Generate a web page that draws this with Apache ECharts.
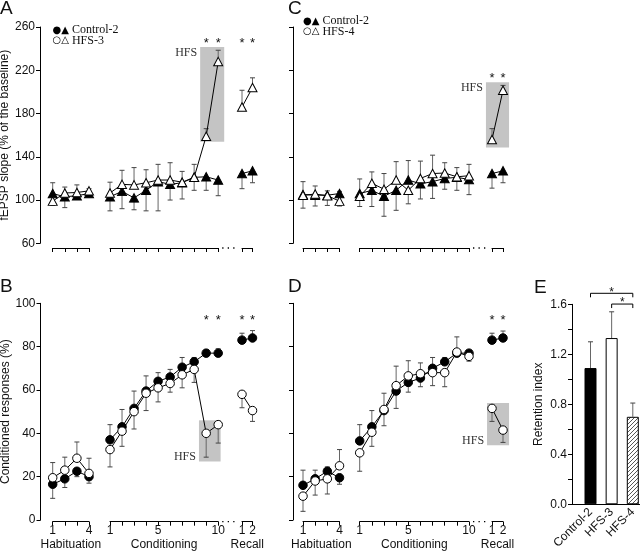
<!DOCTYPE html>
<html><head><meta charset="utf-8">
<script src="https://cdn.jsdelivr.net/npm/echarts@6/dist/echarts.min.js"></script>
<style>html,body{margin:0;padding:0;background:#fff}#c{width:640px;height:553px}</style>
</head><body><div id="c"></div>
<script>
// ================= DATA =================
const habTrials = [1, 2, 3, 4];
const condTrials = [1, 2, 3, 4, 5, 6, 7, 8, 9, 10];
const recallTrials = [1, 2];
const habTickLabels = [1, 4];
const condTickLabels = [1, 5, 10];
const recallTickLabels = [1, 2];
const segmentNames = ['Habituation', 'Conditioning', 'Recall'];
const fepspTicks = [60, 100, 140, 180, 220, 260];
const crTicks = [0, 20, 40, 60, 80, 100];
const retentionTicks = [0, 0.4, 0.8, 1.2, 1.6];
const legendA = ['Control-2', 'HFS-3'];
const legendC = ['Control-2', 'HFS-4'];

// Panel A: fEPSP slope, Control-2 vs HFS-3
const A_habCtrl = [106, 103, 104, 106];
const A_habCtrlErr = [10, 10, 3, 3];
const A_habHfs = [99, 106.5, 107, 108.5];
const A_habHfsErr = [4, 5.5, 7, 2];
const A_condCtrl = [103, 108, 102, 109, 117, 114.5, 116, 121, 121.5, 118.5];
const A_condCtrlErr = [13, 16, 11, 19, 27, 14.5, 15, 12, 12.5, 14.5];
const A_condHfs = [106.5, 114.5, 114, 116, 118.5, 118.5, 116.5, 121, 159, 228];
const A_condHfsErr = [10, 13, 16, 12, 14.5, 16, 10, 12, 7, 10.5];
const A_recCtrl = [124.5, 127];
const A_recCtrlErr = [14, 11];
const A_recHfs = [186, 204];
const A_recHfsErr = [15.5, 9];

// Panel C: fEPSP slope, Control-2 vs HFS-4
const C_habCtrl = [105, 104.5, 104.5, 106];
const C_habCtrlErr = [12, 10, 4, 2];
const C_habHfs = [104.5, 105.5, 104, 99];
const C_habHfsErr = [12, 7.5, 9, 4.5];
const C_condCtrl = [106, 109, 103.5, 109, 118.5, 115, 117, 120, 121, 119];
const C_condCtrlErr = [13.5, 15, 18.5, 18.5, 18, 14, 15.5, 10, 12, 14];
const C_condHfs = [103.5, 115.5, 110, 118.5, 109, 120, 124.5, 125, 121.5, 122.5];
const C_condHfsErr = [9.5, 10.5, 14.5, 17, 12.5, 16, 17, 9.5, 8.5, 10.5];
const C_recCtrl = [124.5, 127];
const C_recCtrlErr = [13.5, 11];
const C_recHfs = [156, 201.5];
const C_recHfsErr = [10, 4.5];

// Panel B: conditioned responses (%), Control-2 vs HFS-3
const B_habCtrl = [16.5, 19, 22.5, 20];
const B_habCtrlErr = [6.5, 4, 2.5, 3];
const B_habHfs = [19.5, 23, 28.5, 21.5];
const B_habHfsErr = [7, 6, 7.5, 7];
const B_condCtrl = [37, 43, 51.5, 59.5, 64, 66, 70.5, 73, 77, 77];
const B_condCtrlErr = [7, 8, 8, 7, 4, 3.5, 4.5, 2, 1.5, 2];
const B_condHfs = [32.5, 41, 50, 58.5, 61, 63, 67, 69.5, 40, 44];
const B_condHfsErr = [8, 7, 8, 8, 6.5, 4, 6, 6, 11, 8.5];
const B_recCtrl = [83, 84];
const B_recCtrlErr = [3.2, 3.4];
const B_recHfs = [58, 50.5];
const B_recHfsErr = [6.2, 5];

// Panel D: conditioned responses (%), Control-2 vs HFS-4
const D_habCtrl = [16, 19, 22.5, 19.5];
const D_habCtrlErr = [7, 4, 2, 3];
const D_habHfs = [11, 18, 19, 25];
const D_habHfsErr = [7, 6.5, 7, 7.5];
const D_condCtrl = [36.5, 43, 50.5, 59.5, 63.5, 65.5, 70, 73, 77, 77];
const D_condCtrlErr = [7.5, 7.5, 7, 8, 4.5, 4, 5, 2, 1, 1.2];
const D_condHfs = [31, 40.5, 51, 62, 66.5, 67.5, 68, 68, 77.5, 75.5];
const D_condHfsErr = [8.5, 6.5, 7.5, 9, 7, 5, 6, 6.5, 7, 2.2];
const D_recCtrl = [83, 84];
const D_recCtrlErr = [3.2, 3.2];
const D_recHfs = [51.5, 41.5];
const D_recHfsErr = [6, 5.7];

// HFS shaded boxes (x from, x to, y from, y to) in data units of their segment
const A_hfsBox = [8.5, 10.5, 154, 241.5];
const B_hfsBox = [8.4, 10.2, 27, 46];
const C_hfsBox = [0.45, 2.55, 148.5, 209];
const D_hfsBox = [0.55, 2.55, 34.5, 54];
const starLevelFepspA = 244.5;
const starLevelFepspC = 212.5;
const starLevelCR = 92.3;

// Panel E: retention index
const retentionNames = ['Control-2', 'HFS-3', 'HFS-4'];
const retention = [1.09, 1.33, 0.70];
const retentionErr = [0.21, 0.21, 0.11];
const sigBrackets = [[1, 3, 1.688], [2, 3, 1.602]];

// ================= LAYOUT =================
const FONT = 'Arial, "Liberation Sans", sans-serif';
const SERIF = '"Liberation Serif", "Times New Roman", serif';
const ERRC = '#666';
const segsAB = [[52.7, 89], [110, 218.2], [242, 252.5]];
const segsCD = [[303, 339.5], [359.7, 469], [492, 503]];

const grids = [], xAxes = [], yAxes = [], series = [], graphics = [];

function dirs(a, b, mineFirst) {
  // error bar goes up for the higher series, down for the lower one
  return a.map((v, i) => mineFirst ? (v >= b[i] ? 1 : -1) : (v > b[i] ? 1 : -1));
}
function errRender(params, api) {
  const x = api.value(0), v = api.value(1), e = api.value(2), d = api.value(3);
  const p0 = api.coord([x, v]), p1 = api.coord([x, v + d * e]);
  return {type: 'group', children: [
    {type: 'line', shape: {x1: p0[0], y1: p0[1], x2: p1[0], y2: p1[1]}, style: {stroke: ERRC, lineWidth: 1}},
    {type: 'line', shape: {x1: p1[0] - 2.5, y1: p1[1], x2: p1[0] + 2.5, y2: p1[1]}, style: {stroke: '#444', lineWidth: 1}}
  ]};
}
function starSeries(gi, xs, level) {
  return {type: 'custom', xAxisIndex: gi, yAxisIndex: gi, clip: false, silent: true, z: 5,
    data: xs.map(x => [x, level]),
    renderItem: (p, api) => {
      const c = api.coord([api.value(0), api.value(1)]);
      return {type: 'text', x: c[0], y: c[1], style: {text: '*', font: '13px ' + FONT, fill: '#111', align: 'center', verticalAlign: 'middle'}};
    }};
}
function boxSeries(gi, box, labelAtTop) {
  return {type: 'custom', xAxisIndex: gi, yAxisIndex: gi, clip: false, silent: true, z: 0,
    data: [box],
    renderItem: (p, api) => {
      const a = api.coord([api.value(0), api.value(3)]);
      const b = api.coord([api.value(1), api.value(2)]);
      return {type: 'group', children: [
        {type: 'rect', shape: {x: a[0], y: a[1], width: b[0] - a[0], height: b[1] - a[1]}, style: {fill: '#c4c4c4'}},
        {type: 'text', x: a[0] - 3, y: labelAtTop ? a[1] + 5.5 : b[1] - 4.5,
         style: {text: 'HFS', font: '12px ' + SERIF, fill: '#333', align: 'right', verticalAlign: 'middle'}}
      ]};
    }};
}

function addPanel(cfg) {
  cfg.segs.forEach((seg, k) => {
    const gi = grids.length;
    const [x0, x1] = cfg.segX[k];
    grids.push({left: x0, top: cfg.top, width: x1 - x0, height: cfg.bottom - cfg.top, outerBoundsMode: 'none', containLabel: false});
    xAxes.push({
      gridIndex: gi, type: 'value', min: seg.trials[0], max: seg.trials[seg.trials.length - 1], interval: 1,
      offset: cfg.bracketY - cfg.bottom,
      axisLine: {show: true, onZero: false, lineStyle: {color: '#000', width: 1}},
      axisTick: {show: true, length: 4, lineStyle: {color: '#000', width: 1}},
      splitLine: {show: false},
      axisLabel: {show: cfg.showX, customValues: seg.tickLabels, margin: 3, color: '#111', fontSize: 12, fontFamily: FONT, showMinLabel: true, showMaxLabel: true},
      name: cfg.showX ? segmentNames[k] : '', nameLocation: 'middle', nameGap: 17,
      nameTextStyle: {fontSize: 12, fontFamily: FONT, color: '#111'}
    });
    yAxes.push({
      gridIndex: gi, type: 'value', min: cfg.ymin, max: cfg.ymax, show: k === 0,
      offset: k === 0 ? x0 - cfg.yAxisX : 0,
      axisLine: {show: true, onZero: false, lineStyle: {color: '#000', width: 1}},
      axisTick: {show: true, length: 4, customValues: cfg.yTicks, lineStyle: {color: '#000'}},
      splitLine: {show: false},
      axisLabel: {show: cfg.showY, customValues: cfg.yTicks, margin: 5, color: '#111', fontSize: 12, fontFamily: FONT},
      name: k === 0 && cfg.yName ? cfg.yName : '', nameLocation: 'middle', nameGap: 23,
      nameTextStyle: {fontSize: 12, fontFamily: FONT, color: '#111'}
    });
    const cd = dirs(seg.ctrl, seg.hfs, false), hd = dirs(seg.hfs, seg.ctrl, true);
    const common = {xAxisIndex: gi, yAxisIndex: gi, clip: false, silent: true};
    series.push(Object.assign({type: 'custom', z: 1, renderItem: errRender,
      data: seg.trials.map((t, i) => [t, seg.ctrl[i], seg.ctrlErr[i], cd[i]])}, common));
    series.push(Object.assign({type: 'custom', z: 1, renderItem: errRender,
      data: seg.trials.map((t, i) => [t, seg.hfs[i], seg.hfsErr[i], hd[i]])}, common));
    series.push(Object.assign({type: 'line', z: 3, symbol: cfg.symbol, symbolSize: cfg.symbolSize, showAllSymbol: true,
      itemStyle: {color: '#000', borderColor: '#000', borderWidth: 1}, lineStyle: {color: '#000', width: 1},
      data: seg.trials.map((t, i) => [t, seg.ctrl[i]])}, common));
    series.push(Object.assign({type: 'line', z: 4, symbol: cfg.symbol, symbolSize: cfg.symbolSize, showAllSymbol: true,
      itemStyle: {color: '#fff', borderColor: '#000', borderWidth: 1}, lineStyle: {color: '#000', width: 1},
      data: seg.trials.map((t, i) => [t, seg.hfs[i]])}, common));
    if (cfg.box && cfg.box.seg === k) series.push(boxSeries(gi, cfg.box.data, cfg.box.top));
    if (cfg.stars[k]) series.push(starSeries(gi, cfg.stars[k], cfg.starLevel));
  });
  // dotted gap between conditioning and recall brackets
  graphics.push({type: 'line', silent: true,
    shape: {x1: cfg.segX[1][1] + 4, y1: cfg.bracketY, x2: cfg.segX[2][0] - 4, y2: cfg.bracketY},
    style: {stroke: '#000', lineWidth: 1.3, lineDash: [1.3, 4.2]}});
}

function mkSegs(p) {
  return [
    {trials: habTrials, tickLabels: habTickLabels, ctrl: p.hc, ctrlErr: p.hce, hfs: p.hh, hfsErr: p.hhe},
    {trials: condTrials, tickLabels: condTickLabels, ctrl: p.cc, ctrlErr: p.cce, hfs: p.ch, hfsErr: p.che},
    {trials: recallTrials, tickLabels: recallTickLabels, ctrl: p.rc, ctrlErr: p.rce, hfs: p.rh, hfsErr: p.rhe}
  ];
}

const tri = [9, 8.5], circ = 8.5;
addPanel({top: 27, bottom: 243.3, yAxisX: 40, segX: segsAB, bracketY: 248, ymin: 60, ymax: 260, yTicks: fepspTicks,
  showY: true, showX: false, yName: 'fEPSP slope (% of the baseline)', symbol: 'triangle', symbolSize: tri,
  segs: mkSegs({hc: A_habCtrl, hce: A_habCtrlErr, hh: A_habHfs, hhe: A_habHfsErr, cc: A_condCtrl, cce: A_condCtrlErr,
    ch: A_condHfs, che: A_condHfsErr, rc: A_recCtrl, rce: A_recCtrlErr, rh: A_recHfs, rhe: A_recHfsErr}),
  box: {seg: 1, data: A_hfsBox, top: true}, stars: {1: [9, 10], 2: [1, 2]}, starLevel: starLevelFepspA});
addPanel({top: 303.3, bottom: 520, yAxisX: 40.5, segX: segsAB, bracketY: 521.7, ymin: 0, ymax: 100, yTicks: crTicks,
  showY: true, showX: true, yName: 'Conditioned responses (%)', symbol: 'circle', symbolSize: circ,
  segs: mkSegs({hc: B_habCtrl, hce: B_habCtrlErr, hh: B_habHfs, hhe: B_habHfsErr, cc: B_condCtrl, cce: B_condCtrlErr,
    ch: B_condHfs, che: B_condHfsErr, rc: B_recCtrl, rce: B_recCtrlErr, rh: B_recHfs, rhe: B_recHfsErr}),
  box: {seg: 1, data: B_hfsBox, top: false}, stars: {1: [9, 10], 2: [1, 2]}, starLevel: starLevelCR});
addPanel({top: 27, bottom: 243.3, yAxisX: 293, segX: segsCD, bracketY: 248, ymin: 60, ymax: 260, yTicks: fepspTicks,
  showY: false, showX: false, yName: '', symbol: 'triangle', symbolSize: tri,
  segs: mkSegs({hc: C_habCtrl, hce: C_habCtrlErr, hh: C_habHfs, hhe: C_habHfsErr, cc: C_condCtrl, cce: C_condCtrlErr,
    ch: C_condHfs, che: C_condHfsErr, rc: C_recCtrl, rce: C_recCtrlErr, rh: C_recHfs, rhe: C_recHfsErr}),
  box: {seg: 2, data: C_hfsBox, top: true}, stars: {2: [1, 2]}, starLevel: starLevelFepspC});
addPanel({top: 303.3, bottom: 520, yAxisX: 293, segX: segsCD, bracketY: 521.7, ymin: 0, ymax: 100, yTicks: crTicks,
  showY: false, showX: true, yName: '', symbol: 'circle', symbolSize: circ,
  segs: mkSegs({hc: D_habCtrl, hce: D_habCtrlErr, hh: D_habHfs, hhe: D_habHfsErr, cc: D_condCtrl, cce: D_condCtrlErr,
    ch: D_condHfs, che: D_condHfsErr, rc: D_recCtrl, rce: D_recCtrlErr, rh: D_recHfs, rhe: D_recHfsErr}),
  box: {seg: 2, data: D_hfsBox, top: false}, stars: {2: [1, 2]}, starLevel: starLevelCR});

// ----- Panel E -----
// hatch pattern "////" for the HFS-4 bar
const hatch = document.createElement('canvas');
hatch.width = 4; hatch.height = 4;
(function () {
  const c = hatch.getContext('2d');
  c.fillStyle = '#fff'; c.fillRect(0, 0, 4, 4);
  c.strokeStyle = '#444'; c.lineWidth = 0.9;
  c.beginPath();
  c.moveTo(-1, 5); c.lineTo(5, -1);
  c.moveTo(-1, 1); c.lineTo(1, -1);
  c.moveTo(3, 5); c.lineTo(5, 3);
  c.stroke();
})();

const ge = grids.length;
grids.push({left: 572, top: 304.3, width: 70, height: 200, outerBoundsMode: 'none', containLabel: false});
xAxes.push({gridIndex: ge, type: 'value', min: 0.125, max: 3.435,
  axisLine: {show: true, onZero: false, lineStyle: {color: '#000'}}, axisTick: {show: false}, splitLine: {show: false},
  axisLabel: {customValues: [1, 2, 3], rotate: 45, margin: 6, fontSize: 12, fontFamily: FONT, color: '#111',
    formatter: v => retentionNames[Math.round(v) - 1]}});
yAxes.push({gridIndex: ge, type: 'value', min: 0, max: 1.6, interval: 0.2,
  axisLine: {show: true, lineStyle: {color: '#000'}}, axisTick: {show: true, length: 4, lineStyle: {color: '#000'}},
  splitLine: {show: false},
  axisLabel: {customValues: retentionTicks, margin: 5, fontSize: 12, fontFamily: FONT, color: '#111', formatter: v => v.toFixed(1)},
  name: 'Retention index', nameLocation: 'middle', nameGap: 27, nameTextStyle: {fontSize: 12, fontFamily: FONT, color: '#111'}});
const barStyles = [
  {color: '#000', borderColor: '#000', borderWidth: 1},
  {color: '#fff', borderColor: '#000', borderWidth: 1},
  {color: {image: hatch, repeat: 'repeat'}, borderColor: '#000', borderWidth: 1}
];
series.push({type: 'custom', xAxisIndex: ge, yAxisIndex: ge, clip: false, silent: true, z: 1, renderItem: errRender,
  data: retention.map((v, i) => [i + 1, v, retentionErr[i], 1])});
series.push({type: 'bar', xAxisIndex: ge, yAxisIndex: ge, barWidth: 12, silent: true, z: 2,
  data: retention.map((v, i) => ({value: [i + 1, v], itemStyle: barStyles[i]}))});
series.push({type: 'custom', xAxisIndex: ge, yAxisIndex: ge, clip: false, silent: true, z: 3,
  data: sigBrackets,
  renderItem: (p, api) => {
    const a = api.coord([api.value(0), api.value(2)]), b = api.coord([api.value(1), api.value(2)]);
    return {type: 'group', children: [
      {type: 'polyline', shape: {points: [[a[0], a[1] + 4], [a[0], a[1]], [b[0], b[1]], [b[0], b[1] + 4]]}, style: {stroke: '#000', lineWidth: 1, fill: null}},
      {type: 'text', x: (a[0] + b[0]) / 2, y: a[1] - 1, style: {text: '*', font: '12px ' + FONT, fill: '#111', align: 'center', verticalAlign: 'middle'}}
    ]};
  }});

// ----- decorations: panel letters and legends -----
[['A', 0, -1], ['B', 0, 277], ['C', 288, -1], ['D', 288, 277], ['E', 534, 278]].forEach(([t, x, y]) => {
  graphics.push({type: 'text', x: x, y: y, silent: true, style: {text: t, font: '19px ' + FONT, fill: '#111', verticalAlign: 'top'}});
});
function legend(x, y, names) {
  graphics.push({type: 'text', x: x, y: y, silent: true, style: {text: '{s|●▲} ' + names[0], font: '12px ' + SERIF, fill: '#111', verticalAlign: 'middle',
    rich: {s: {font: '10px "DejaVu Sans"', fill: '#000'}}}});
  graphics.push({type: 'text', x: x, y: y + 10.5, silent: true, style: {text: '{s|○△} ' + names[1], font: '12px ' + SERIF, fill: '#111', verticalAlign: 'middle',
    rich: {s: {font: '10px "DejaVu Sans"', fill: '#000'}}}});
}
legend(52.5, 30, legendA);
legend(303, 21, legendC);

const chart = echarts.init(document.getElementById('c'), null, {renderer: 'canvas'});
chart.setOption({animation: false, backgroundColor: '#fff', grid: grids, xAxis: xAxes, yAxis: yAxes, series: series, graphic: graphics});
</script></body></html>
